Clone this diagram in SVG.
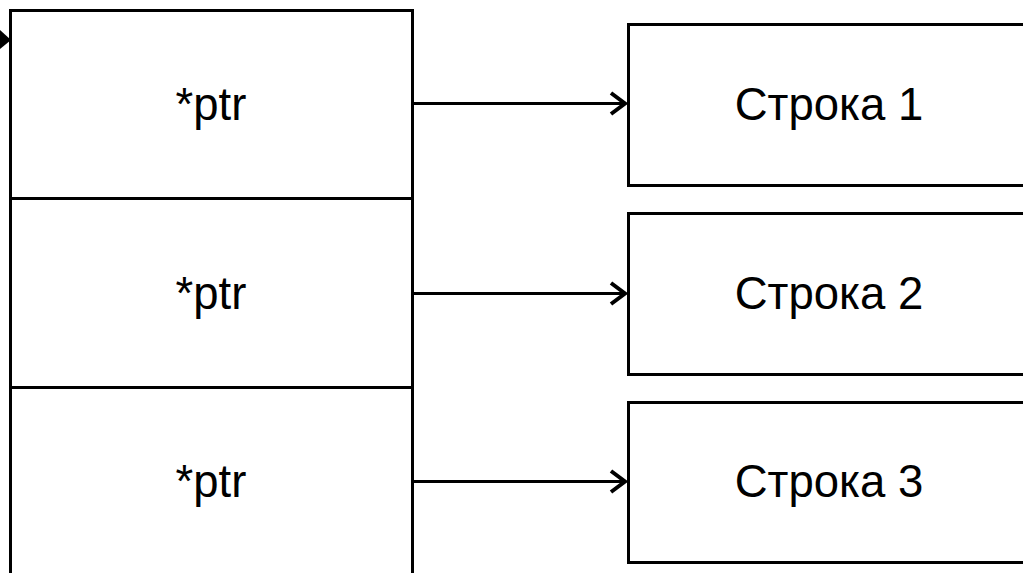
<svg xmlns="http://www.w3.org/2000/svg" width="1023" height="573" viewBox="0 0 1023 573">
<style>
.box{fill:#fff;stroke:#000;stroke-width:3}
.lbl{font-family:"Liberation Sans",Arial,sans-serif;font-size:45.5px;text-anchor:middle;fill:#000}
.conn{stroke:#000;stroke-width:3;fill:none}
.head{stroke:#000;stroke-width:4;fill:none;stroke-linejoin:miter;stroke-miterlimit:10}
</style>
<rect width="1023" height="573" fill="#fff"/>
<g id="cell1"><rect class="box" x="10.5" y="10.5" width="402" height="188"/><text class="lbl" x="211" y="120">*ptr</text></g>
<g id="cell2"><rect class="box" x="10.5" y="198.5" width="402" height="189"/><text class="lbl" x="211" y="309">*ptr</text></g>
<g id="cell3"><rect class="box" x="10.5" y="387.5" width="402" height="200"/><text class="lbl" x="211" y="497">*ptr</text></g>
<g id="str1"><rect class="box" x="628.5" y="24.5" width="410" height="161"/><text class="lbl" x="829" y="120">Строка 1</text></g>
<g id="str2"><rect class="box" x="628.5" y="213.5" width="410" height="161"/><text class="lbl" x="829" y="309">Строка 2</text></g>
<g id="str3"><rect class="box" x="628.5" y="402.5" width="410" height="160"/><text class="lbl" x="829" y="497">Строка 3</text></g>
<g id="connectors">
<line class="conn" x1="-10" y1="40" x2="4" y2="40"/>
<polygon points="0,30 11,40 0,49" fill="#000"/>
<line class="conn" x1="412" y1="103.5" x2="624" y2="103.5"/>
<path class="head" d="M611,93 L625,103.5 L611,114"/>
<line class="conn" x1="412" y1="293.5" x2="624" y2="293.5"/>
<path class="head" d="M611,283 L625,293.5 L611,304"/>
<line class="conn" x1="412" y1="481.5" x2="624" y2="481.5"/>
<path class="head" d="M611,471 L625,481.5 L611,492"/>
</g>
</svg>
